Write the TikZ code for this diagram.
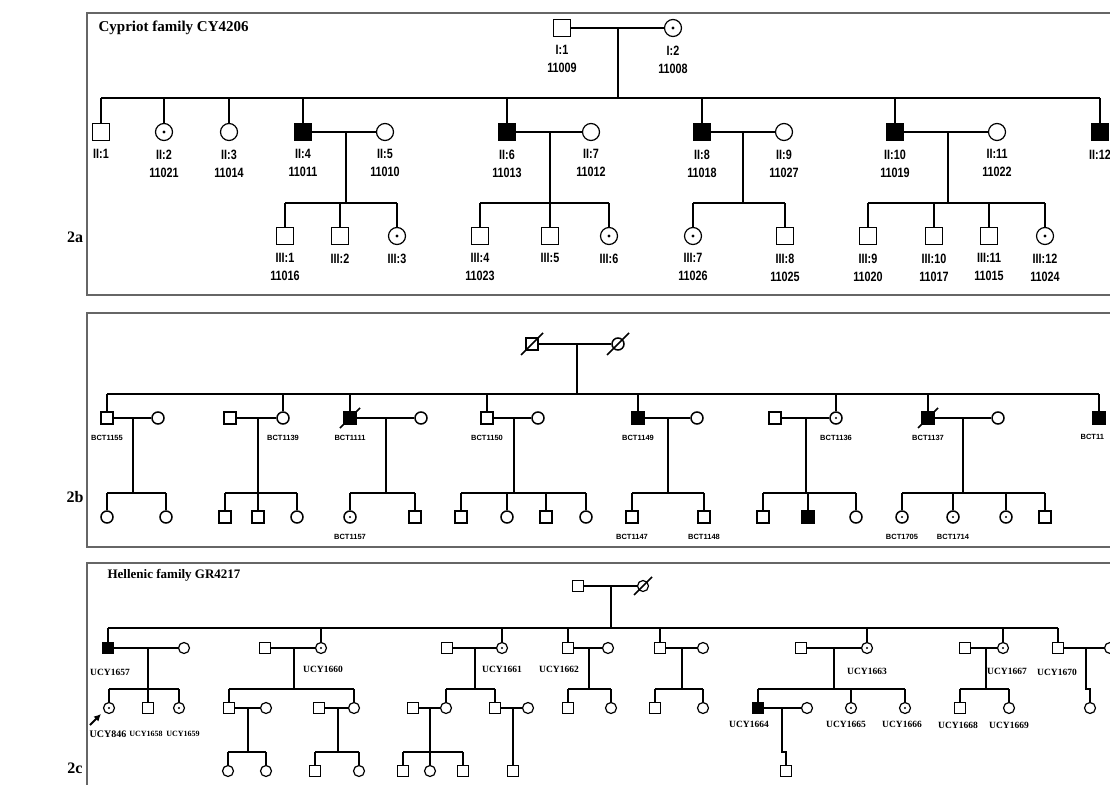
\documentclass[tikz,border=0pt]{standalone}
\usepackage{fontspec}
\setmainfont{Liberation Serif}
\newfontfamily\pedfont[FakeStretch=0.8]{Liberation Sans}
\newfontfamily\bctfont{Liberation Sans}
\usetikzlibrary{calc,arrows.meta}
\newcommand\pedslash[2]{\draw[line width=1.7pt] ($(#1.center)+(-#2,#2)$) -- ($(#1.center)+(#2,-#2)$);}

\begin{document}
\begin{tikzpicture}[x=1pt,y=-1pt,line width=1.2pt,
  male/.style={draw,rectangle,inner sep=0pt,minimum size=17},
  female/.style={draw,circle,inner sep=0pt,minimum size=17},
  aff/.style={fill=black},
  carr/.style={path picture={\fill (path picture bounding box.center) circle (#1);}},
  carr/.default=1.6,
  frame/.style={draw=black!60,line width=1.2pt},
  title/.style={font=\bfseries\fontsize{15}{15}\selectfont,anchor=base west,inner sep=0pt},
  panel/.style={font=\bfseries\fontsize{16}{16}\selectfont,anchor=base,inner sep=0pt},
  laba/.style={font=\pedfont\bfseries\fontsize{13.5}{18}\selectfont,align=center,inner sep=0pt},
  labb/.style={font=\bctfont\bfseries\fontsize{7.5}{8}\selectfont,inner sep=0pt},
  labc/.style={font=\bfseries\fontsize{9.5}{10}\selectfont,inner sep=0pt},
  labs/.style={font=\bfseries\fontsize{8}{8}\selectfont,inner sep=0pt},
  la/.style={label={[laba]below:{#1}}},
  lb/.style={label={[labb]below:{#1}}}]
\useasboundingbox (0,0) rectangle (1110,784);

% ---- 2a: Cypriot family
\draw[frame] (87,13) rectangle (1130,295);
\node[title] (ta) at (98,32) {Cypriot family CY4206};
\node[panel] (pa) at (75,242) {2a};
\begin{scope}[label distance=8pt]
  \node[male,la={I:1\\11009}] (I1) at (562,28) {};
  \node[female,carr,la={I:2\\11008}] (I2) at (673,28) {};
  \node[male,la={II:1}] (II1) at (101,132) {};
  \node[female,carr,la={II:2\\11021}] (II2) at (164,132) {};
  \node[female,la={II:3\\11014}] (II3) at (229,132) {};
  \node[male,aff,la={II:4\\11011}] (II4) at (303,132) {};
  \node[female,la={II:5\\11010}] (II5) at (385,132) {};
  \node[male,aff,la={II:6\\11013}] (II6) at (507,132) {};
  \node[female,la={II:7\\11012}] (II7) at (591,132) {};
  \node[male,aff,la={II:8\\11018}] (II8) at (702,132) {};
  \node[female,la={II:9\\11027}] (II9) at (784,132) {};
  \node[male,aff,la={II:10\\11019}] (II10) at (895,132) {};
  \node[female,la={II:11\\11022}] (II11) at (997,132) {};
  \node[male,aff,la={II:12}] (II12) at (1100,132) {};
  \node[male,la={III:1\\11016}] (III1) at (285,236) {};
  \node[male,la={III:2}] (III2) at (340,236) {};
  \node[female,carr,la={III:3}] (III3) at (397,236) {};
  \node[male,la={III:4\\11023}] (III4) at (480,236) {};
  \node[male,la={III:5}] (III5) at (550,236) {};
  \node[female,carr,la={III:6}] (III6) at (609,236) {};
  \node[female,carr,la={III:7\\11026}] (III7) at (693,236) {};
  \node[male,la={III:8\\11025}] (III8) at (785,236) {};
  \node[male,la={III:9\\11020}] (III9) at (868,236) {};
  \node[male,la={III:10\\11017}] (III10) at (934,236) {};
  \node[male,la={III:11\\11015}] (III11) at (989,236) {};
  \node[female,carr,la={III:12\\11024}] (III12) at (1045,236) {};
\end{scope}
\coordinate (m0) at (618,28);
\coordinate (m1) at (346,132);
\coordinate (m2) at (550,132);
\coordinate (m3) at (743,132);
\coordinate (m4) at (948,132);
\coordinate (s0) at (0,98);
\coordinate (s1) at (0,203);
\draw (I1) -- (I2);
\draw (m0) -- (m0 |- s0);
\draw (II1 |- s0) -- (II12 |- s0);
\foreach \c in {II1,II2,II3,II4,II6,II8,II10,II12} \draw (\c |- s0) -- (\c);
\draw (II4) -- (II5);
\draw (II6) -- (II7);
\draw (II8) -- (II9);
\draw (II10) -- (II11);
\foreach \m in {m1,m2,m3,m4} \draw (\m) -- (\m |- s1);
\draw (III1 |- s1) -- (III3 |- s1);
\draw (III4 |- s1) -- (III6 |- s1);
\draw (III7 |- s1) -- (III8 |- s1);
\draw (III9 |- s1) -- (III12 |- s1);
\foreach \c in {III1,III2,III3,III4,III5,III6,III7,III8,III9,III10,III11,III12} \draw (\c |- s1) -- (\c);

% ---- 2b
\draw[frame] (87,313) rectangle (1130,547);
\node[panel] (pb) at (75,502) {2b};
\begin{scope}[male/.append style={minimum size=12,line width=1.5pt},female/.append style={minimum size=12,line width=1.5pt},label distance=10pt]
  \node[male] (A1) at (532,344) {};
  \node[female] (A2) at (618,344) {};
  \node[male,lb={BCT1155}] (B1) at (107,418) {};
  \node[female] (B1s) at (158,418) {};
  \node[male] (B2s) at (230,418) {};
  \node[female,lb={BCT1139}] (B2) at (283,418) {};
  \node[male,aff,lb={BCT1111}] (B3) at (350,418) {};
  \node[female] (B3s) at (421,418) {};
  \node[male,lb={BCT1150}] (B4) at (487,418) {};
  \node[female] (B4s) at (538,418) {};
  \node[male,aff,lb={BCT1149}] (B5) at (638,418) {};
  \node[female] (B5s) at (697,418) {};
  \node[male] (B6s) at (775,418) {};
  \node[female,carr=1.2,lb={BCT1136}] (B6) at (836,418) {};
  \node[male,aff,lb={BCT1137}] (B7) at (928,418) {};
  \node[female] (B7s) at (998,418) {};
  \node[male,aff] (B8) at (1099,418) {};
  \node[labb,anchor=north west] (tB8) at (1080,434) {BCT11};
  \node[female] (C1) at (107,517) {};
  \node[female] (C2) at (166,517) {};
  \node[male] (C3) at (225,517) {};
  \node[male] (C4) at (258,517) {};
  \node[female] (C5) at (297,517) {};
  \node[female,carr=1.2,lb={BCT1157}] (C6) at (350,517) {};
  \node[male] (C7) at (415,517) {};
  \node[male] (C8) at (461,517) {};
  \node[female] (C9) at (507,517) {};
  \node[male] (C10) at (546,517) {};
  \node[female] (C11) at (586,517) {};
  \node[male,lb={BCT1147}] (C12) at (632,517) {};
  \node[male,lb={BCT1148}] (C13) at (704,517) {};
  \node[male] (C14) at (763,517) {};
  \node[male,aff] (C15) at (808,517) {};
  \node[female] (C16) at (856,517) {};
  \node[female,carr=1.2,lb={BCT1705}] (C17) at (902,517) {};
  \node[female,carr=1.2,lb={BCT1714}] (C18) at (953,517) {};
  \node[female,carr=1.2] (C19) at (1006,517) {};
  \node[male] (C20) at (1045,517) {};
\end{scope}
\pedslash{A1}{11}
\pedslash{A2}{11}
\pedslash{B3}{10}
\pedslash{B7}{10}
\coordinate (n0) at (577,344);
\coordinate (n1) at (133,418);
\coordinate (n2) at (258,418);
\coordinate (n3) at (386,418);
\coordinate (n4) at (514,418);
\coordinate (n5) at (668,418);
\coordinate (n6) at (806,418);
\coordinate (n7) at (963,418);
\coordinate (s2) at (0,394);
\coordinate (s3) at (0,493);
\draw (A1) -- (A2);
\draw (n0) -- (n0 |- s2);
\draw (B1 |- s2) -- (B8 |- s2);
\foreach \c in {B1,B2,B3,B4,B5,B6,B7,B8} \draw (\c |- s2) -- (\c);
\draw (B1) -- (B1s);
\draw (B2s) -- (B2);
\draw (B3) -- (B3s);
\draw (B4) -- (B4s);
\draw (B5) -- (B5s);
\draw (B6s) -- (B6);
\draw (B7) -- (B7s);
\foreach \m in {n1,n2,n3,n4,n5,n6,n7} \draw (\m) -- (\m |- s3);
\draw (C1 |- s3) -- (C2 |- s3);
\draw (C3 |- s3) -- (C5 |- s3);
\draw (C6 |- s3) -- (C7 |- s3);
\draw (C8 |- s3) -- (C11 |- s3);
\draw (C12 |- s3) -- (C13 |- s3);
\draw (C14 |- s3) -- (C16 |- s3);
\draw (C17 |- s3) -- (C20 |- s3);
\foreach \c in {C1,C2,C3,C4,C5,C6,C7,C8,C9,C10,C11,C12,C13,C14,C15,C16,C17,C18,C19,C20} \draw (\c |- s3) -- (\c);

% ---- 2c: Hellenic family
\draw[frame] (87,563) rectangle (1130,800);
\node[title,font=\bfseries\fontsize{13}{13}\selectfont] (tc) at (107,578) {Hellenic family GR4217};
\node[panel] (pc) at (75,773) {2c};
\begin{scope}[male/.append style={minimum size=11},female/.append style={minimum size=11}]
  \node[male] (D1) at (578,586) {};
  \node[female] (D2) at (643,586) {};
  \node[male,aff] (E1) at (108,648) {};
  \node[female] (E1s) at (184,648) {};
  \node[male] (E2s) at (265,648) {};
  \node[female,carr=1.2] (E2) at (321,648) {};
  \node[male] (E3s) at (447,648) {};
  \node[female,carr=1.2] (E3) at (502,648) {};
  \node[male] (E4) at (568,648) {};
  \node[female] (E4s) at (608,648) {};
  \node[male] (E5) at (660,648) {};
  \node[female] (E5s) at (703,648) {};
  \node[male] (E6s) at (801,648) {};
  \node[female,carr=1.2] (E6) at (867,648) {};
  \node[male] (E7s) at (965,648) {};
  \node[female,carr=1.2] (E7) at (1003,648) {};
  \node[male] (E8) at (1058,648) {};
  \node[female] (E8s) at (1110,648) {};
  \node[female,carr=1.2] (G1) at (109,708) {};
  \node[male] (G2) at (148,708) {};
  \node[female,carr=1.2] (G3) at (179,708) {};
  \node[male] (G4) at (229,708) {};
  \node[female] (G4s) at (266,708) {};
  \node[male] (G5s) at (319,708) {};
  \node[female] (G5) at (354,708) {};
  \node[male] (G6s) at (413,708) {};
  \node[female] (G6) at (446,708) {};
  \node[male] (G7) at (495,708) {};
  \node[female] (G7s) at (528,708) {};
  \node[male] (G8) at (568,708) {};
  \node[female] (G9) at (611,708) {};
  \node[male] (G10) at (655,708) {};
  \node[female] (G11) at (703,708) {};
  \node[male,aff] (G12) at (758,708) {};
  \node[female] (G12s) at (807,708) {};
  \node[female,carr=1.2] (G13) at (851,708) {};
  \node[female,carr=1.2] (G14) at (905,708) {};
  \node[male] (G15) at (960,708) {};
  \node[female] (G16) at (1009,708) {};
  \node[female] (G17) at (1090,708) {};
  \node[female] (H1) at (228,771) {};
  \node[female] (H2) at (266,771) {};
  \node[male] (H3) at (315,771) {};
  \node[female] (H4) at (359,771) {};
  \node[male] (H5) at (403,771) {};
  \node[female] (H6) at (430,771) {};
  \node[male] (H7) at (463,771) {};
  \node[male] (H8) at (513,771) {};
  \node[male] (H9) at (786,771) {};
\end{scope}
\pedslash{D2}{9}
% labels
\node[labc] (tE1) at (110,672) {UCY1657};
\node[labc] (tE2) at (323,669) {UCY1660};
\node[labc] (tE3) at (502,669) {UCY1661};
\node[labc] (tE4) at (559,669) {UCY1662};
\node[labc] (tE6) at (867,671) {UCY1663};
\node[labc] (tE7) at (1007,671) {UCY1667};
\node[labc] (tE8) at (1057,672) {UCY1670};
\node[labc,font=\bfseries\fontsize{10}{10}\selectfont] (tG1) at (108,734) {UCY846};
\node[labs] (tG2) at (146,734) {UCY1658};
\node[labs] (tG3) at (183,734) {UCY1659};
\node[labc] (tG12) at (749,724) {UCY1664};
\node[labc] (tG13) at (846,724) {UCY1665};
\node[labc] (tG14) at (902,724) {UCY1666};
\node[labc] (tG15) at (958,725) {UCY1668};
\node[labc] (tG16) at (1009,725) {UCY1669};
\coordinate (q0) at (90,725);
\coordinate (q1) at (101,714);
\draw[-{Latex[length=7pt,width=7pt]},line width=2pt] (q0) -- (q1);
% lines
\coordinate (k0) at (611,586);
\coordinate (k1) at (148,648);
\coordinate (k2) at (294,648);
\coordinate (k3) at (475,648);
\coordinate (k4) at (589,648);
\coordinate (k5) at (682,648);
\coordinate (k6) at (834,648);
\coordinate (k7) at (986,648);
\coordinate (k8) at (1086,648);
\coordinate (j4) at (248,708);
\coordinate (j5) at (338,708);
\coordinate (j6) at (430,708);
\coordinate (j7) at (513,708);
\coordinate (j12) at (782,708);
\coordinate (s4) at (0,628);
\coordinate (s5) at (0,689);
\coordinate (s6) at (0,752);
\draw (D1) -- (D2);
\draw (k0) -- (k0 |- s4);
\draw (E1 |- s4) -- (E8 |- s4);
\foreach \c in {E1,E2,E3,E4,E5,E6,E7,E8} \draw (\c |- s4) -- (\c);
\draw (E1) -- (E1s);
\draw (E2s) -- (E2);
\draw (E3s) -- (E3);
\draw (E4) -- (E4s);
\draw (E5) -- (E5s);
\draw (E6s) -- (E6);
\draw (E7s) -- (E7);
\draw (E8) -- (E8s);
\foreach \m in {k1,k2,k3,k4,k5,k6,k7} \draw (\m) -- (\m |- s5);
\draw (k8) -- (k8 |- s5) -- (G17 |- s5) -- (G17);
\draw (G1 |- s5) -- (G3 |- s5);
\draw (G4 |- s5) -- (G5 |- s5);
\draw (G6 |- s5) -- (G7 |- s5);
\draw (G8 |- s5) -- (G9 |- s5);
\draw (G10 |- s5) -- (G11 |- s5);
\draw (G12 |- s5) -- (G14 |- s5);
\draw (G15 |- s5) -- (G16 |- s5);
\foreach \c in {G1,G2,G3,G4,G5,G6,G7,G8,G9,G10,G11,G12,G13,G14,G15,G16} \draw (\c |- s5) -- (\c);
\draw (G4) -- (G4s);
\draw (G5s) -- (G5);
\draw (G6s) -- (G6);
\draw (G7) -- (G7s);
\draw (G12) -- (G12s);
\foreach \m in {j4,j5,j6} \draw (\m) -- (\m |- s6);
\draw (j7) -- (H8);
\draw (j12) -- (j12 |- s6) -- (H9 |- s6) -- (H9);
\draw (H1 |- s6) -- (H2 |- s6);
\draw (H3 |- s6) -- (H4 |- s6);
\draw (H5 |- s6) -- (H7 |- s6);
\foreach \c in {H1,H2,H3,H4,H5,H6,H7} \draw (\c |- s6) -- (\c);
\end{tikzpicture}
\end{document}
